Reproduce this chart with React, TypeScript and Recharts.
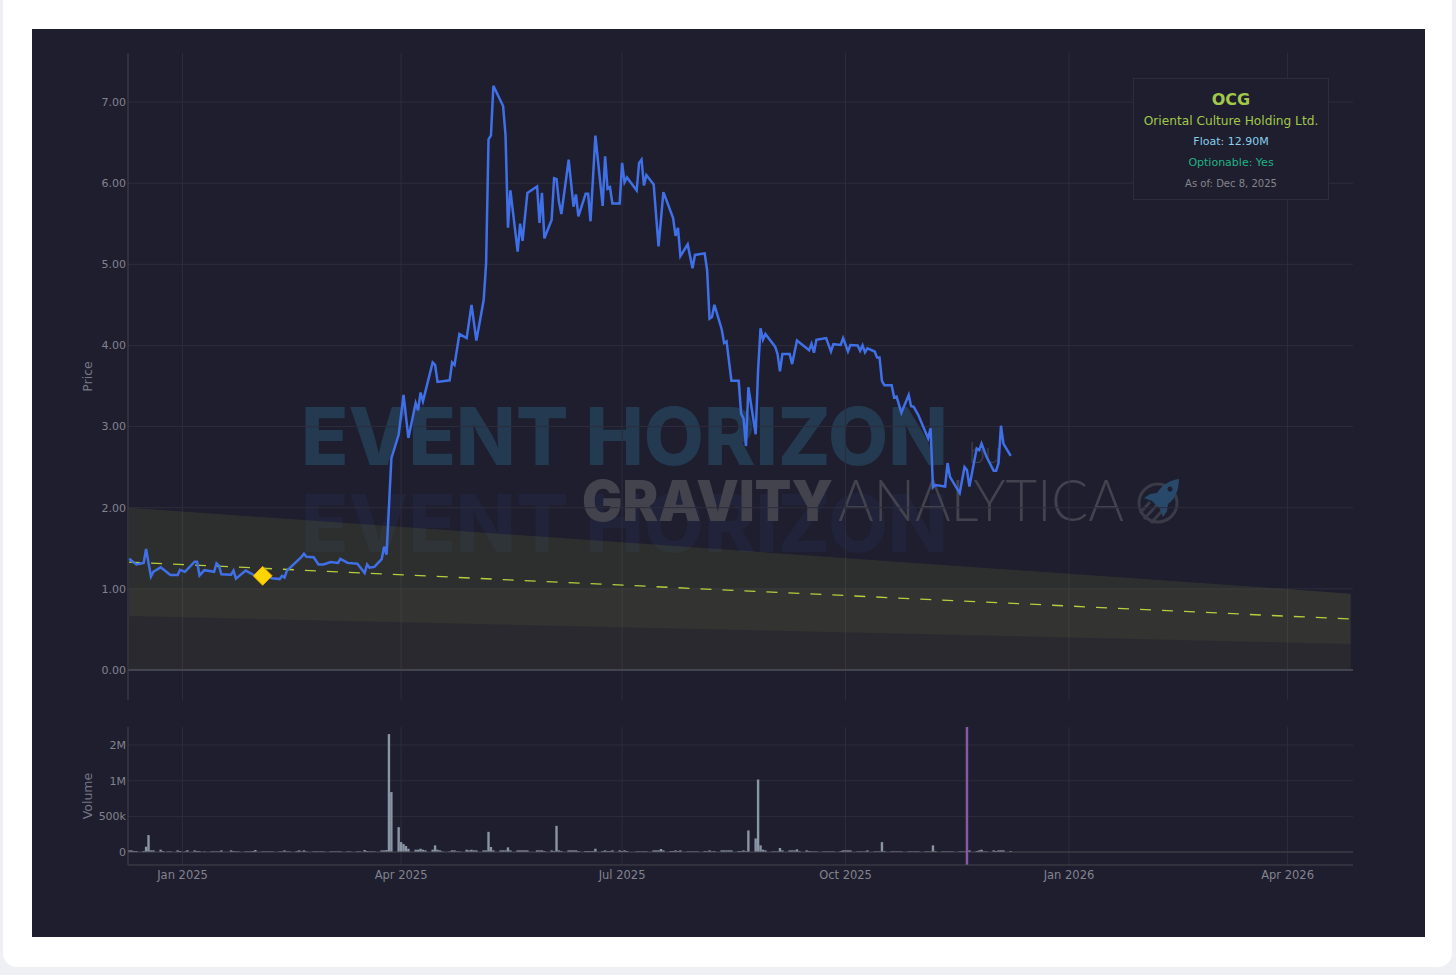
import { Area, Bar, BarChart, CartesianGrid, ComposedChart, Line, ReferenceLine, Scatter, XAxis, YAxis } from "recharts";

// all x values are days counted from 2025-01-01
const xTickDays = [0, 90, 181, 273, 365, 455];
const xTickLabels = ["Jan 2025", "Apr 2025", "Jul 2025", "Oct 2025", "Jan 2026", "Apr 2026"];
const xDomain = [-22.45, 481.95];

const priceTicks = [0, 1, 2, 3, 4, 5, 6, 7];
const volumeTicks = [0, 500000, 1000000, 1500000];
// the source chart rounds 1.5M up to "2M" on its axis
const volumeTickLabels = ["0", "500k", "1M", "2M"];

const priceDays = [
  -22, -19, -16, -15, -13, -12, -9, -5, -2, -1, 1, 5, 6, 7, 9, 13, 14, 15, 16, 20, 21, 22, 26, 29, 33, 37, 40, 41, 42, 43,
  49, 50, 51, 54, 56, 58, 61, 64, 65, 68, 72, 75, 76, 77, 79, 82, 83, 84, 86, 89, 91, 93, 96, 97, 98, 99, 103, 104, 105,
  110, 111, 112, 114, 117, 119, 121, 124, 125, 126, 127, 128, 132, 133, 134, 135, 138, 139, 140, 142, 146, 147, 148, 149,
  152, 153, 154, 155, 156, 159, 161, 162, 163, 166, 167, 168, 170, 173, 174, 175, 176, 177, 180, 181, 182, 183, 187, 188,
  189, 190, 191, 194, 196, 198, 202, 203, 204, 205, 208, 210, 211, 215, 216, 217, 218, 219, 222, 223, 224, 226, 229, 230,
  231, 232, 233, 236, 237, 238, 239, 240, 244, 245, 246, 247, 250, 251, 253, 258, 259, 260, 261, 265, 267, 268, 271, 272,
  274, 275, 278, 279, 280, 281, 282, 285, 286, 287, 288, 289, 292, 293, 294, 296, 299, 300, 301, 303, 307, 308, 309, 310,
  314, 315, 316, 320, 322, 323, 324, 327, 328, 329, 331, 334, 335, 336, 337, 338, 341,
];
const priceValues = [
  1.37, 1.3, 1.32, 1.49, 1.15, 1.21, 1.265, 1.17, 1.17, 1.235, 1.21, 1.335, 1.335, 1.165, 1.23, 1.21, 1.315, 1.285, 1.18, 1.175, 1.225, 1.125, 1.225, 1.175, 1.16, 1.13, 1.12, 1.16, 1.14, 1.225,
  1.395, 1.433, 1.395, 1.39, 1.3, 1.3, 1.33, 1.32, 1.37, 1.32, 1.31, 1.195, 1.3, 1.26, 1.27, 1.365, 1.52, 1.42, 2.61, 2.9, 3.39, 2.86, 3.29, 3.2, 3.42, 3.31, 3.79, 3.76, 3.55,
  3.57, 3.79, 3.76, 4.14, 4.09, 4.5, 4.06, 4.56, 5.01, 6.54, 6.59, 7.2, 6.95, 6.59, 5.45, 5.91, 5.155, 5.5, 5.29, 5.88, 5.96, 5.51, 5.88, 5.32,
  5.55, 6.06, 6.05, 5.77, 5.62, 6.29, 5.71, 5.86, 5.59, 5.87, 5.87, 5.53, 6.585, 5.72, 6.33, 5.93, 5.95, 5.75, 5.75, 6.25, 6.01, 6.07, 5.91, 6.25,
  6.29, 5.97, 6.1, 5.985, 5.22, 5.89, 5.57, 5.35, 5.45, 5.1, 5.245, 4.95, 5.115, 5.135, 4.93, 4.33, 4.35, 4.5, 4.2, 4.03, 4.05, 3.565, 3.565, 3.16,
  3.1, 2.76, 3.485, 2.905, 3.7, 4.21, 4.07, 4.14, 3.985, 3.895, 3.68, 3.895, 3.895, 3.77, 4.06, 3.94, 4.02, 3.91, 4.07, 4.09, 3.925, 4.015, 4.005, 4.09,
  3.925, 4.005, 4.0, 3.935, 4.0, 3.915, 3.965, 3.925, 3.85, 3.85, 3.56, 3.51, 3.51, 3.36, 3.37, 3.17, 3.39, 3.25, 3.245, 3.14, 2.855, 2.98, 2.25, 2.28,
  2.26, 2.55, 2.38, 2.18, 2.5, 2.465, 2.26, 2.73, 2.71, 2.79, 2.63, 2.455, 2.455, 2.55, 3.01, 2.79, 2.64,
];

const bandDays = [-22, 453, 481];
const bandUpper = [2.0, 1.0, 0.94];
const bandMiddle = [1.0, 1.0, 0.94];
const bandLower = [0.665, 0.34, 0.32];
const trendValues = [1.33, 0.665, 0.63];

const markerDay = [33];
const markerPrice = [1.16];
const eventDay = 323;

const volumeDays = [
  -22, -21, -20, -19, -16, -15, -14, -13, -12, -9, -8, -6, -5, -2, -1, 1, 2, 5, 6, 7, 9, 12, 13, 14, 15, 16, 20, 21, 22, 23,
  26, 27, 28, 29, 30, 33, 34, 35, 36, 37, 40, 41, 42, 43, 44, 47, 48, 49, 50, 51, 54, 55, 56, 57, 58, 61, 62, 63, 64, 65,
  68, 69, 72, 73, 75, 76, 77, 78, 79, 82, 83, 84, 85, 86, 89, 90, 91, 92, 93, 96, 97, 98, 99, 100, 103, 104, 105, 106, 107,
  110, 111, 112, 113, 114, 117, 118, 119, 120, 121, 124, 125, 126, 127, 128, 131, 132, 133, 134, 135, 138, 139, 140, 141, 142,
  146, 147, 148, 149, 152, 153, 154, 155, 156, 159, 160, 161, 162, 163, 166, 167, 168, 169, 170, 173, 174, 175, 176, 177,
  180, 181, 182, 183, 187, 188, 189, 190, 191, 194, 195, 196, 197, 198, 201, 202, 203, 204, 205, 208, 209, 210, 211, 212,
  215, 216, 217, 218, 219, 222, 223, 224, 225, 226, 229, 230, 231, 232, 233, 236, 237, 238, 239, 240, 243, 244, 245, 246, 247,
  250, 251, 252, 253, 254, 257, 258, 259, 260, 261, 264, 265, 266, 267, 268, 271, 272, 273, 274, 275, 278, 279, 280, 281, 282,
  285, 286, 287, 288, 289, 292, 293, 294, 295, 296, 299, 300, 301, 302, 303, 306, 307, 308, 309, 310, 313, 314, 315, 316, 317,
  320, 321, 322, 323, 324, 327, 328, 329, 330, 331, 334, 335, 336, 337, 338, 341,
];
const volumeValues = [
  23000, 23000, 14000, 14000, 14000, 74000, 237000, 23000, 23000, 32000, 14000, 9000, 9000, 23000, 14000, 9000, 23000, 23000, 14000, 14000, 9000, 9000, 9000, 9000, 9000, 23000, 23000, 14000, 9000, 9000,
  9000, 9000, 9000, 14000, 28000, 9000, 9000, 9000, 9000, 9000, 9000, 9000, 23000, 9000, 9000, 14000, 23000, 9000, 23000, 9000, 9000, 9000, 9000, 9000, 9000, 9000, 9000, 9000, 9000, 9000,
  9000, 9000, 9000, 9000, 28000, 14000, 9000, 9000, 9000, 23000, 23000, 28000, 1652000, 840000, 348000, 139000, 111000, 84000, 46000, 32000, 32000, 46000, 32000, 23000, 32000, 93000, 32000, 23000, 9000,
  9000, 23000, 23000, 9000, 9000, 32000, 23000, 32000, 23000, 23000, 23000, 23000, 283000, 70000, 23000, 23000, 23000, 23000, 65000, 23000, 23000, 23000, 23000, 23000, 23000,
  23000, 23000, 23000, 14000, 23000, 14000, 367000, 23000, 14000, 23000, 23000, 23000, 23000, 14000, 14000, 14000, 14000, 14000, 46000, 14000, 23000, 14000, 14000, 23000,
  23000, 14000, 23000, 14000, 9000, 9000, 9000, 9000, 9000, 23000, 23000, 23000, 42000, 23000, 14000, 14000, 23000, 14000, 23000, 9000, 9000, 9000, 9000, 9000,
  14000, 9000, 23000, 9000, 14000, 23000, 23000, 23000, 23000, 23000, 14000, 14000, 23000, 14000, 302000, 190000, 1016000, 93000, 32000, 23000, 9000, 9000, 9000, 56000, 23000,
  23000, 23000, 23000, 37000, 14000, 23000, 14000, 9000, 9000, 9000, 9000, 9000, 9000, 9000, 9000, 14000, 23000, 23000, 23000, 23000, 9000, 9000, 9000, 9000, 23000,
  9000, 9000, 9000, 139000, 14000, 9000, 9000, 9000, 9000, 9000, 9000, 9000, 9000, 9000, 9000, 9000, 9000, 9000, 93000, 14000, 9000, 9000, 9000, 9000, 9000,
  9000, 9000, 9000, 9000, 23000, 14000, 23000, 32000, 9000, 9000, 23000, 14000, 23000, 23000, 23000, 14000,
];

const priceRows = priceDays.map((day, i) => ({ day, price: priceValues[i] }));
const bandRows = bandDays.map((day, i) => ({
  day,
  floor: [0, bandLower[i]],
  core: [bandLower[i], bandMiddle[i]],
  cap: [bandMiddle[i], bandUpper[i]],
  trend: trendValues[i],
}));
const markerRows = markerDay.map((day, i) => ({ day, price: markerPrice[i] }));
const volumeRows = volumeDays.map((day, i) => ({ day, volume: volumeValues[i] }));

const FONT = "'DejaVu Sans', Verdana, sans-serif";
const GRID = "#2d2d3c";
const AXIS = "#45454f";
const TICK = { fill: "#83838f", fontSize: 11, fontFamily: FONT };
const X_TICK = { fill: "#83838f", fontSize: 11.5, fontFamily: FONT };
const LABEL = { fill: "#77778a", fontSize: 12.5, fontFamily: FONT, textAnchor: "middle" as const };

function Diamond({ cx, cy }: { cx?: number; cy?: number }) {
  const r = 9.5;
  return (
    <polygon
      points={`${cx},${cy! - r} ${cx! + r},${cy} ${cx},${cy! + r} ${cx! - r},${cy}`}
      fill="#ffd400"
      stroke="#d9a400"
      strokeWidth={1}
    />
  );
}

function Watermark() {
  return (
    <svg width={1456} height={975} style={{ position: "absolute", left: 0, top: 0 }}>
      <text x={301} y={465} fontFamily="Inter" fontWeight={800} fontSize={80} fill="#233a50" textLength={647} lengthAdjust="spacingAndGlyphs">
        EVENT HORIZON
      </text>
      <text x={301} y={552} fontFamily="Inter" fontWeight={800} fontSize={80} fill="#202339" textLength={647} lengthAdjust="spacingAndGlyphs">
        EVENT HORIZON
      </text>
      <text x={582} y={521} fontFamily="Inter" fontWeight={900} fontSize={56} fill="#43434e" textLength={251} lengthAdjust="spacingAndGlyphs">
        GRAVITY
      </text>
      <text x={838} y={521} fontFamily="Lato" fontWeight={300} fontSize={57} fill="#43434f" textLength={286} lengthAdjust="spacingAndGlyphs">
        ANALYTICA
      </text>
      <text x={969} y={463} fontFamily="Lato" fontWeight={300} fontSize={29} fill="#3d3e4a">
        bu
      </text>
      {/* rocket logo */}
      <circle cx={1158} cy={503} r={19} fill="none" stroke="#3a3b48" strokeWidth={3} />
      <path d="M1144 519 L1157 505 M1140 513 L1150 502 M1151 523 L1162 511" stroke="#3a3b48" strokeWidth={3} fill="none" />
      <path d="M1179 479 C1170 480 1162 485 1157 493 L1150 494 L1144 498 L1152 501 L1160 509 L1163 517 L1167 511 L1168 504 C1176 499 1179 488 1179 479 Z" fill="#28496a" />
      <circle cx={1170} cy={489} r={2.5} fill="#1e1e2e" />
    </svg>
  );
}

function InfoBox() {
  const line = (top: number, size: number, color: string, text: string, bold = false) => (
    <div
      style={{
        position: "absolute",
        left: 0,
        width: "100%",
        top: top - 78 - 11,
        height: 22,
        lineHeight: "22px",
        fontSize: size,
        color,
        fontWeight: bold ? 700 : 400,
        textAlign: "center",
        whiteSpace: "nowrap",
      }}
    >
      {text}
    </div>
  );
  return (
    <div
      style={{
        position: "absolute",
        left: 1133,
        top: 78,
        width: 194,
        height: 120,
        background: "#1e1e2e",
        border: "1px solid #2c2d3d",
        fontFamily: FONT,
      }}
    >
      {line(99, 16, "#a2c84a", "OCG", true)}
      {line(120, 12.2, "#a2c84a", "Oriental Culture Holding Ltd.")}
      {line(141, 11, "#87ceeb", "Float: 12.90M")}
      {line(162, 11, "#1fb385", "Optionable: Yes")}
      {line(183, 10, "#85858d", "As of: Dec 8, 2025")}
    </div>
  );
}

export default function App() {
  return (
    <div style={{ position: "absolute", left: 0, top: 0, width: 1456, height: 975, background: "#eef0f3", overflow: "hidden" }}>
      {/* white card the chart sits on */}
      <div style={{ position: "absolute", left: 3, top: -20, width: 1449, height: 987, background: "#ffffff", borderRadius: 14 }} />
      <div style={{ position: "absolute", left: 32, top: 29, width: 1393, height: 908, background: "#1e1e2e" }} />

      <Watermark />

      <div style={{ position: "absolute", left: 60, top: 53 }}>
        <ComposedChart width={1293} height={647} margin={{ top: 0, right: 0, bottom: 0, left: 0 }}>
          <CartesianGrid stroke={GRID} verticalValues={xTickDays} horizontalValues={priceTicks} />
          <XAxis type="number" dataKey="day" domain={xDomain} ticks={xTickDays} hide allowDataOverflow />
          <YAxis
            type="number"
            width={68}
            domain={[-0.37, 7.604]}
            ticks={priceTicks}
            interval={0}
            allowDataOverflow
            tickFormatter={(v: number) => v.toFixed(2)}
            tick={TICK}
            tickSize={0}
            tickMargin={2}
            axisLine={{ stroke: AXIS }}
            label={{ value: "Price", angle: -90, position: "insideLeft", offset: 28, style: LABEL }}
          />
          <Area data={bandRows} dataKey="floor" stroke="none" fill="#aa9642" fillOpacity={0.1} isAnimationActive={false} />
          <Area data={bandRows} dataKey="core" stroke="none" fill="#c4cc4a" fillOpacity={0.13} isAnimationActive={false} />
          <Area data={bandRows} dataKey="cap" stroke="none" fill="#acbc3f" fillOpacity={0.11} isAnimationActive={false} />
          <ReferenceLine y={0} stroke="#4e4e58" strokeWidth={1.5} />
          <Line data={bandRows} dataKey="trend" stroke="#b4cf3c" strokeWidth={1.3} strokeDasharray="11 11" dot={false} isAnimationActive={false} />
          <Line data={priceRows} dataKey="price" stroke="#4070e8" strokeWidth={2.5} dot={false} isAnimationActive={false} />
          <Scatter data={markerRows} dataKey="price" shape={<Diamond />} isAnimationActive={false} />
        </ComposedChart>
      </div>

      <InfoBox />

      <div style={{ position: "absolute", left: 60, top: 727 }}>
        <BarChart width={1293} height={165} data={volumeRows} margin={{ top: 0, right: 0, bottom: 0, left: 0 }}>
          <CartesianGrid stroke={GRID} verticalValues={xTickDays} horizontalValues={volumeTicks} />
          <XAxis
            type="number"
            dataKey="day"
            domain={xDomain}
            ticks={xTickDays}
            interval={0}
            allowDataOverflow
            height={27}
            tickFormatter={(d: number) => xTickLabels[xTickDays.indexOf(d)]}
            tick={X_TICK}
            tickSize={0}
            tickMargin={6}
            axisLine={{ stroke: AXIS }}
          />
          <YAxis
            type="number"
            width={68}
            domain={[-182000, 1752000]}
            ticks={volumeTicks}
            interval={0}
            allowDataOverflow
            tickFormatter={(v: number) => volumeTickLabels[volumeTicks.indexOf(v)]}
            tick={TICK}
            tickSize={0}
            tickMargin={2}
            axisLine={{ stroke: AXIS }}
            label={{ value: "Volume", angle: -90, position: "insideLeft", offset: 28, style: LABEL }}
          />
          <ReferenceLine y={0} stroke="#45454f" strokeWidth={1} />
          <Bar dataKey="volume" fill="#8a96a5" barSize={2.4} isAnimationActive={false} />
          <ReferenceLine x={eventDay} stroke="#8558a8" strokeWidth={2.5} />
        </BarChart>
      </div>
    </div>
  );
}
